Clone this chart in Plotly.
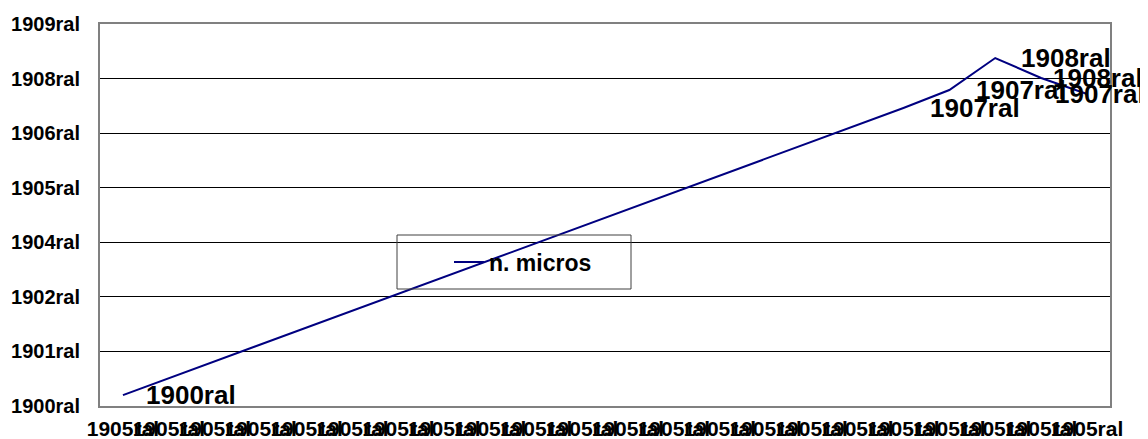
import plotly.graph_objects as go

# ---- data ----
x_labels = ["1905ral"] * 22
# values are Excel date serials (shown as years); blank cells are connected
values = [100] + [None] * 16 + [2730, 2895, 3188, 3005, 2859]
point_labels = ["1900ral"] + [None] * 16 + ["1907ral", "1907ral", "1908ral", "1908ral", "1907ral"]
y_tickvals = [0, 500, 1000, 1500, 2000, 2500, 3000, 3500]
y_ticktext = ["1900ral", "1901ral", "1902ral", "1904ral", "1905ral", "1906ral", "1908ral", "1909ral"]
series_name = "n. micros"

# ---- styling ----
FONT = "Arial, Liberation Sans, sans-serif"
label_shift = {0: 21, 17: 25, 18: 25, 19: 24, 20: 10, 21: -34}
BODY = 8  # default page margin of the html body
PL, PT, PW, PH = 100, 24, 1010, 382  # plot area on screen

x_idx = list(range(len(x_labels)))

fig = go.Figure()
fig.add_trace(go.Scatter(
    x=x_idx, y=values, mode="lines", name="<b>%s</b>" % series_name,
    connectgaps=True, line=dict(color="#000080", width=2),
))

for i, (v, t) in enumerate(zip(values, point_labels)):
    if v is None or t is None:
        continue
    fig.add_annotation(
        x=i, y=v, text="<b>%s</b>" % t, showarrow=False,
        xanchor="left", yanchor="middle", xshift=label_shift.get(i, 21),
        font=dict(family=FONT, size=26, color="black"),
    )

# legend frame
fig.add_shape(type="rect", xref="paper", yref="paper",
              x0=(397 - PL) / PW, x1=(631 - PL) / PW,
              y0=(PT + PH - 289) / PH, y1=(PT + PH - 235) / PH,
              line=dict(color="#404040", width=1), fillcolor="rgba(0,0,0,0)")

W, H = 1148 - BODY, 439 - BODY
fig.update_layout(
    width=W, height=H,
    margin=dict(l=PL - BODY, r=W - (PL - BODY) - PW, t=PT - BODY, b=H - (PT - BODY) - PH),
    plot_bgcolor="white", paper_bgcolor="white",
    showlegend=True,
    legend=dict(x=(449 - PL) / PW, y=(PT + PH - 262) / PH, xanchor="left", yanchor="middle",
                bgcolor="rgba(0,0,0,0)", borderwidth=0,
                font=dict(family=FONT, size=23, color="black")),
    font=dict(family=FONT, color="black"),
)
fig.update_xaxes(
    range=[-0.5, len(x_labels) - 0.5], tickmode="array", tickvals=x_idx,
    ticktext=["<b>%s</b>" % s for s in x_labels], tickangle=0,
    tickfont=dict(family=FONT, size=21, color="black"),
    showgrid=False, zeroline=False, showline=True, linecolor="#808080", linewidth=2,
    mirror=True, ticks="", automargin=False, ticklabelstandoff=3,
)
fig.update_yaxes(
    range=[0, 3500], tickmode="array", tickvals=y_tickvals,
    ticktext=["<b>%s</b>" % s for s in y_ticktext],
    tickfont=dict(family=FONT, size=20, color="black"),
    showgrid=True, gridcolor="black", gridwidth=1, zeroline=False,
    showline=True, linecolor="#808080", linewidth=2, mirror=True,
    ticks="outside", ticklen=14, tickcolor="rgba(0,0,0,0)", automargin=False,
)

fig.write_html("out.html")
